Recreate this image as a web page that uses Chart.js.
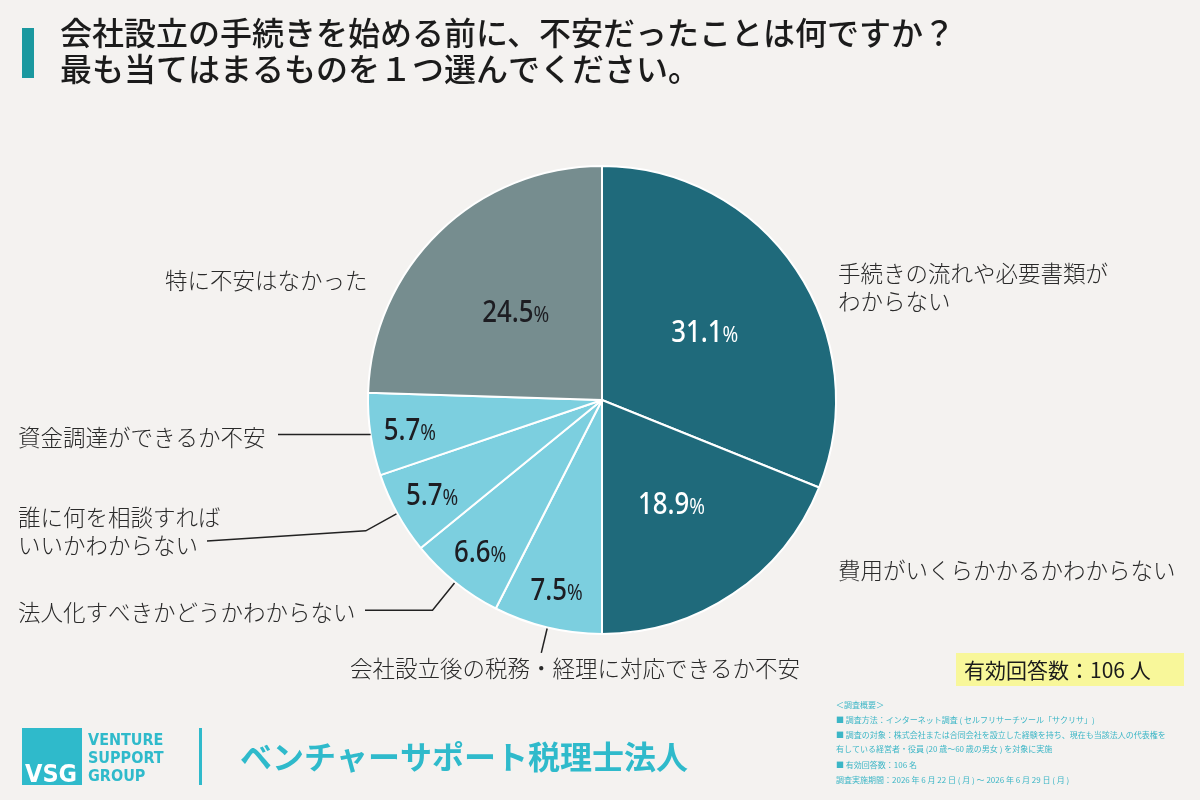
<!DOCTYPE html>
<html lang="ja">
<head>
<meta charset="utf-8">
<title>会社設立前の不安</title>
<script src="https://cdn.jsdelivr.net/npm/chart.js@4.4.1/dist/chart.umd.min.js"></script>
<style>
  html, body { margin: 0; padding: 0; background: #f4f2f0; }
  #wrap { position: relative; width: 1200px; height: 800px; }
</style>
</head>
<body>
<div id="wrap"><canvas id="pie"></canvas></div>
<script>
// data
const categories = [
  '手続きの流れや必要書類がわからない',
  '費用がいくらかかるかわからない',
  '会社設立後の税務・経理に対応できるか不安',
  '法人化すべきかどうかわからない',
  '誰に何を相談すればいいかわからない',
  '資金調達ができるか不安',
  '特に不安はなかった'
];
const shares = [31.1, 18.9, 7.5, 6.6, 5.7, 5.7, 24.5];
const sliceColors = ['#1f6a7b', '#1f6a7b', '#7ccfdf', '#7ccfdf', '#7ccfdf', '#7ccfdf', '#768d8f'];

const JP = '"Noto Sans CJK JP", "Noto Sans", sans-serif';

// outside label layout: text lines, anchor, optional leader line
const outside = [
  { lines: ['手続きの流れや必要書類が', 'わからない'], x: 838, y: 273 },
  { lines: ['費用がいくらかかるかわからない'], x: 838, y: 570 },
  { lines: ['会社設立後の税務・経理に対応できるか不安'], x: 350, y: 668, ext: 26 },
  { lines: ['法人化すべきかどうかわからない'], x: 18, y: 612, ext: 36, endX: 365 },
  { lines: ['誰に何を相談すれば', 'いいかわからない'], x: 18, y: 517, ext: 36, endX: 207, lineY: 541 },
  { lines: ['資金調達ができるか不安'], x: 18, y: 437, ext: 0, endX: 278 },
  { lines: ['特に不安はなかった'], x: 165, y: 280 }
];

const decor = {
  id: 'decor',
  beforeDraw(chart) {
    const ctx = chart.ctx;
    ctx.save();
    ctx.fillStyle = '#f4f2f0';
    ctx.fillRect(0, 0, chart.width, chart.height);

    // title
    ctx.fillStyle = '#1a989f';
    ctx.fillRect(22, 28, 12, 50);
    ctx.fillStyle = '#1b1b1b';
    ctx.font = '500 32px ' + JP;
    ctx.textBaseline = 'middle';
    ctx.textAlign = 'left';
    ctx.fillText('会社設立の手続きを始める前に、不安だったことは何ですか？', 60, 33);
    ctx.fillText('最も当てはまるものを１つ選んでください。', 60, 69);

    // footer logo
    ctx.fillStyle = '#2fbacb';
    ctx.fillRect(22, 728, 60, 57);
    ctx.fillStyle = '#ffffff';
    ctx.font = 'bold 25px "Liberation Sans Narrow", "DejaVu Sans Condensed", sans-serif';
    ctx.textBaseline = 'alphabetic';
    ctx.fillText('VSG', 25, 782);
    ctx.fillStyle = '#2fbacb';
    ctx.font = 'bold 16px "Liberation Sans Narrow", "DejaVu Sans Condensed", sans-serif';
    ctx.fillText('VENTURE', 88, 745);
    ctx.fillText('SUPPORT', 88, 763);
    ctx.fillText('GROUP', 88, 781);
    ctx.fillRect(199, 728, 3, 57);
    ctx.font = 'bold 32px ' + JP;
    ctx.textBaseline = 'middle';
    ctx.fillText('ベンチャーサポート税理士法人', 240, 757);

    // respondents box
    ctx.fillStyle = '#f8f79a';
    ctx.fillRect(956, 653, 228, 33);
    ctx.fillStyle = '#1b1b1b';
    ctx.font = '21px ' + JP;
    ctx.fillText('有効回答数：106 人', 964, 670);

    // survey notes
    ctx.fillStyle = '#3cb6c6';
    ctx.font = '8px ' + JP;
    const notes = [
      ['＜調査概要＞', 705],
      ['■ 調査方法：インターネット調査 ( セルフリサーチツール「サクリサ」)', 720],
      ['■ 調査の対象：株式会社または合同会社を設立した経験を持ち、現在も当該法人の代表権を', 735],
      ['有している経営者・役員 (20 歳〜60 歳の男女 ) を対象に実施', 749],
      ['■ 有効回答数：106 名', 765],
      ['調査実施期間：2026 年 6 月 22 日 ( 月 ) 〜 2026 年 6 月 29 日 ( 月 )', 780]
    ];
    notes.forEach(n => ctx.fillText(n[0], 836, n[1]));
    ctx.restore();
  },
  afterDatasetsDraw(chart) {
    const ctx = chart.ctx;
    const arcs = chart.getDatasetMeta(0).data;
    ctx.save();
    arcs.forEach((arc, i) => {
      const p = arc.getProps(['x', 'y', 'startAngle', 'endAngle', 'outerRadius'], true);
      const mid = (p.startAngle + p.endAngle) / 2;
      const big = shares[i] > 15;
      const r = p.outerRadius * (big ? 0.53 : 0.83);
      const cx = p.x + Math.cos(mid) * r;
      const cy = p.y + Math.sin(mid) * r;
      const num = shares[i].toFixed(1);
      ctx.fillStyle = i < 2 ? '#ffffff' : '#1d1d22';
      ctx.textBaseline = 'alphabetic';
      ctx.save();
      ctx.translate(cx, cy);
      ctx.scale(0.86, 1);
      ctx.font = '500 30px "Noto Sans", sans-serif';
      const w1 = ctx.measureText(num).width;
      ctx.font = '22px "Noto Sans", sans-serif';
      const w2 = ctx.measureText('%').width;
      const x0 = -(w1 + w2) / 2;
      ctx.font = '500 30px "Noto Sans", sans-serif';
      ctx.textAlign = 'left';
      ctx.fillText(num, x0, 11);
      ctx.font = '22px "Noto Sans", sans-serif';
      ctx.fillText('%', x0 + w1, 11);
      ctx.restore();

      // outside label and leader line
      const lab = outside[i];
      ctx.fillStyle = '#2a2a2a';
      ctx.font = '300 22.5px ' + JP;
      ctx.textBaseline = 'middle';
      ctx.textAlign = 'left';
      lab.lines.forEach((t, k) => ctx.fillText(t, lab.x, lab.y + k * 28));
      if (lab.ext !== undefined) {
        const ex = p.x + Math.cos(mid) * (p.outerRadius + 1);
        const ey = p.y + Math.sin(mid) * (p.outerRadius + 1);
        const kx = p.x + Math.cos(mid) * (p.outerRadius + lab.ext);
        const ky = p.y + Math.sin(mid) * (p.outerRadius + lab.ext);
        ctx.strokeStyle = '#222222';
        ctx.lineWidth = 1.5;
        ctx.beginPath();
        ctx.moveTo(ex, ey);
        ctx.lineTo(kx, ky);
        if (lab.endX !== undefined) ctx.lineTo(lab.endX, lab.lineY !== undefined ? lab.lineY : ky);
        ctx.stroke();
      }
    });
    ctx.restore();
  }
};

new Chart(document.getElementById('pie'), {
  type: 'pie',
  data: {
    labels: categories,
    datasets: [{
      data: shares,
      backgroundColor: sliceColors,
      borderColor: '#ffffff',
      borderWidth: 2
    }]
  },
  options: {
    responsive: true,
    maintainAspectRatio: false,
    animation: false,
    layout: { padding: { left: 366, right: 362, top: 165, bottom: 165 } },
    plugins: {
      legend: { display: false },
      tooltip: { enabled: false }
    }
  },
  plugins: [decor]
});
</script>
</body>
</html>
